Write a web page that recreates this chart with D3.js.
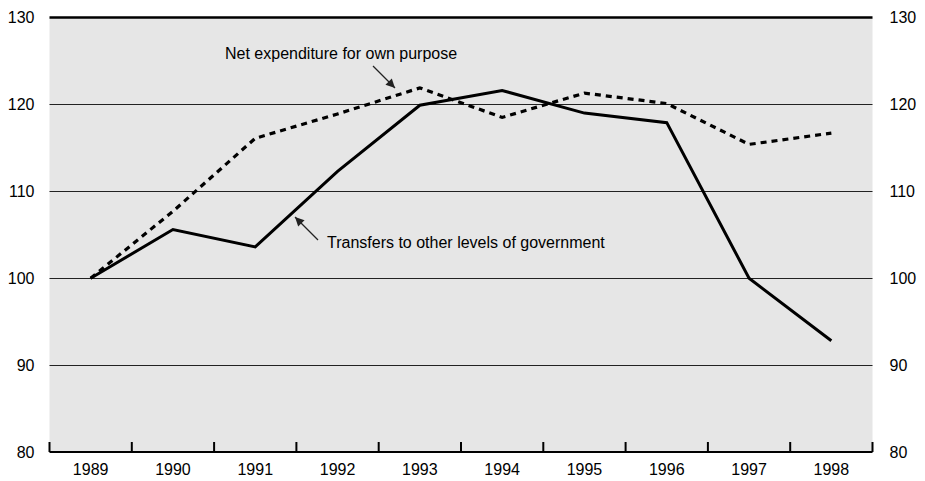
<!DOCTYPE html>
<html><head><meta charset="utf-8">
<script src="https://cdn.jsdelivr.net/npm/d3@7"></script>
<style>body{margin:0;background:#fff}svg{display:block}text{font-family:"Liberation Sans",Arial,sans-serif;fill:#000}</style>
</head><body><svg id="c" width="925" height="481"></svg>
<script>
const years = [1989,1990,1991,1992,1993,1994,1995,1996,1997,1998];
const transfers = [100,105.6,103.6,112.3,119.9,121.6,119.0,117.9,100,92.8];
const netExpenditure = [100,107.7,116.1,118.9,121.9,118.5,121.3,120.1,115.4,116.7];
const yTicks = [80,90,100,110,120,130];

const svg = d3.select("#c");
const L = 49.5, R = 872.5, T = 17.5, B = 452;
const x = d3.scaleBand().domain(years).range([L,R]);
const y = d3.scaleLinear().domain([80,130]).range([B,T]);
const cx = d => x(d) + x.bandwidth()/2;

svg.append("rect").attr("x",L).attr("y",T).attr("width",R-L).attr("height",B-T).attr("fill","#e6e6e6");

// gridlines
svg.append("g").selectAll("line").data(yTicks.filter(v=>v>80&&v<130)).join("line")
  .attr("x1",L).attr("x2",R).attr("y1",d=>Math.round(y(d))+0.5).attr("y2",d=>Math.round(y(d))+0.5)
  .attr("stroke","#222").attr("stroke-width",1);
svg.append("line").attr("x1",L).attr("x2",R).attr("y1",T).attr("y2",T).attr("stroke","#000").attr("stroke-width",2.5);

// y labels both sides
const yl = d3.axisLeft(y).tickValues(yTicks).tickSize(0).tickPadding(15);
const gl = svg.append("g").attr("transform",`translate(${L},0)`).call(yl);
const yr = d3.axisRight(y).tickValues(yTicks).tickSize(0).tickPadding(17);
const gr = svg.append("g").attr("transform",`translate(${R},0)`).call(yr);
[gl,gr].forEach(g=>{g.select(".domain").remove();g.selectAll("text").attr("font-size",16).attr("font-family","Liberation Sans, Arial, sans-serif");});

// x axis
const xa = svg.append("g").attr("transform",`translate(0,${B})`);
xa.append("line").attr("x1",L).attr("x2",R).attr("stroke","#000").attr("stroke-width",2);
const edges = years.map(d=>x(d)).concat([R]);
xa.selectAll("line.t").data(edges).join("line").attr("class","t")
  .attr("x1",d=>d).attr("x2",d=>d).attr("y1",0).attr("y2",-10).attr("stroke","#000").attr("stroke-width",2);
xa.selectAll("text").data(years).join("text").attr("x",d=>cx(d)).attr("y",23)
  .attr("text-anchor","middle").attr("font-size",16).text(d=>d);

// lines
const line = d3.line().x((d,i)=>cx(years[i])).y(d=>y(d));
svg.append("path").datum(netExpenditure).attr("d",line).attr("fill","none").attr("stroke","#000")
  .attr("stroke-width",3.2).attr("stroke-dasharray","6,5");
svg.append("path").datum(transfers).attr("d",line).attr("fill","none").attr("stroke","#000")
  .attr("stroke-width",3).attr("stroke-linejoin","miter");

// annotations
const defs = svg.append("defs");
defs.append("marker").attr("id","ah").attr("viewBox","0 0 10 10").attr("refX",10).attr("refY",5)
  .attr("markerWidth",10).attr("markerHeight",9).attr("markerUnits","userSpaceOnUse").attr("orient","auto")
  .append("path").attr("d","M0,0 L10,5 L0,10 Z").attr("fill","#222");
svg.append("text").attr("x",225).attr("y",59).attr("font-size",16).text("Net expenditure for own purpose");
svg.append("line").attr("x1",373).attr("y1",66).attr("x2",395).attr("y2",88).attr("stroke","#222").attr("stroke-width",1.2).attr("marker-end","url(#ah)");
svg.append("text").attr("x",327).attr("y",248).attr("font-size",16).text("Transfers to other levels of government");
svg.append("line").attr("x1",318).attr("y1",240).attr("x2",295).attr("y2",217).attr("stroke","#222").attr("stroke-width",1.2).attr("marker-end","url(#ah)");
</script></body></html>
